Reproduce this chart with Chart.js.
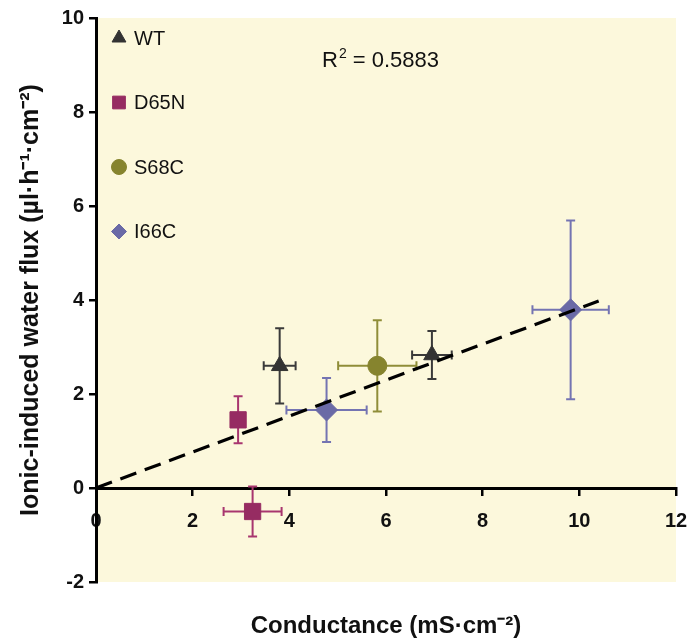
<!DOCTYPE html>
<html lang="en">
<head>
  <meta charset="UTF-8" />
  <title>Conductance vs water flux</title>
  <script src="https://cdn.jsdelivr.net/npm/chart.js"></script>
  <style>
    html, body { margin: 0; padding: 0; background: #fff; }
    #wrap { width: 690px; height: 643px; }
  </style>
</head>
<body>
<div id="wrap"><canvas id="fluxChart" width="690" height="643"></canvas></div>
<script>
  // values
  const groups = ["WT", "D65N", "S68C", "I66C"];

  const wtX = [3.80, 6.95];
  const wtY = [2.60, 2.83];
  const wtXErr = [0.33, 0.41];
  const wtYErr = [0.80, 0.51];

  const d65nX = [2.94, 3.24];
  const d65nY = [1.45, -0.50];
  const d65nXErr = [0, 0.60];
  const d65nYErr = [0.50, 0.53];

  const s68cX = [5.82];
  const s68cY = [2.60];
  const s68cXErr = [0.81];
  const s68cYErr = [0.97];

  const i66cX = [4.77, 9.82];
  const i66cY = [1.66, 3.79];
  const i66cXErr = [0.83, 0.79];
  const i66cYErr = [0.68, 1.90];

  const trendX = [0, 10.4];
  const trendY = [0, 3.98];
  const rSquared = "0.5883";

  const xTicks = [0, 2, 4, 6, 8, 10, 12];
  const yTicks = [-2, 0, 2, 4, 6, 8, 10];

  const FONT = "'Liberation Sans', Arial, Helvetica, sans-serif";
  Chart.defaults.font.family = FONT;
  Chart.defaults.color = "#000";

  function pts(xs, ys, xe, ye) {
    return xs.map((x, i) => ({ x: x, y: ys[i], xErr: xe[i], yErr: ye[i] }));
  }

  const series = [
    { label: groups[0], data: pts(wtX, wtY, wtXErr, wtYErr), color: "#333333", barColor: "#3a3a3a", style: "triangle", r: 9.5, lr: 8 },
    { label: groups[1], data: pts(d65nX, d65nY, d65nXErr, d65nYErr), color: "#962c62", barColor: "#a8366f", style: "rect", r: 11.5, lr: 9 },
    { label: groups[2], data: pts(s68cX, s68cY, s68cXErr, s68cYErr), color: "#86842e", barColor: "#8f8d38", style: "circle", r: 9.5, lr: 7.5 },
    { label: groups[3], data: pts(i66cX, i66cY, i66cXErr, i66cYErr), color: "#6a6aa6", barColor: "#7474b2", style: "rectRot", r: 11, lr: 7.5 }
  ];

  const datasets = series.map(s => ({
    type: "scatter",
    label: s.label,
    data: s.data,
    pointStyle: s.style,
    pointRadius: s.r,
    pointHoverRadius: s.r,
    backgroundColor: s.color,
    borderColor: s.color,
    borderWidth: 1,
    barColor: s.barColor,
    legendRadius: s.lr,
    order: 2
  }));

  datasets.push({
    type: "line",
    label: "trend",
    data: trendX.map((x, i) => ({ x: x, y: trendY[i] })),
    borderColor: "#000",
    borderWidth: 3.2,
    borderDash: [17, 9],
    pointRadius: 0,
    fill: false,
    order: 1
  });

  // pale yellow plot background
  const plotBg = {
    id: "plotBg",
    beforeDraw(chart) {
      const a = chart.chartArea, ctx = chart.ctx;
      ctx.save();
      ctx.fillStyle = "#fcf8dc";
      ctx.fillRect(a.left, a.top, a.right - a.left, a.bottom - a.top);
      ctx.restore();
    }
  };

  // x and y error bars behind the markers
  const errorBars = {
    id: "errorBars",
    beforeDatasetsDraw(chart) {
      const ctx = chart.ctx, xs = chart.scales.x, ys = chart.scales.y;
      const cap = 4.5;
      ctx.save();
      ctx.lineWidth = 2;
      chart.data.datasets.forEach(ds => {
        if (!ds.barColor) return;
        ctx.strokeStyle = ds.barColor;
        ds.data.forEach(p => {
          const px = xs.getPixelForValue(p.x), py = ys.getPixelForValue(p.y);
          if (p.yErr) {
            const t = ys.getPixelForValue(p.y + p.yErr), b = ys.getPixelForValue(p.y - p.yErr);
            ctx.beginPath();
            ctx.moveTo(px, t); ctx.lineTo(px, b);
            ctx.moveTo(px - cap, t); ctx.lineTo(px + cap, t);
            ctx.moveTo(px - cap, b); ctx.lineTo(px + cap, b);
            ctx.stroke();
          }
          if (p.xErr) {
            const l = xs.getPixelForValue(p.x - p.xErr), r = xs.getPixelForValue(p.x + p.xErr);
            ctx.beginPath();
            ctx.moveTo(l, py); ctx.lineTo(r, py);
            ctx.moveTo(l, py - cap); ctx.lineTo(l, py + cap);
            ctx.moveTo(r, py - cap); ctx.lineTo(r, py + cap);
            ctx.stroke();
          }
        });
      });
      ctx.restore();
    }
  };

  // legend column and R² note inside the plot
  const notes = {
    id: "notes",
    afterDraw(chart) {
      const ctx = chart.ctx, a = chart.chartArea;
      ctx.save();
      ctx.textBaseline = "middle";
      ctx.textAlign = "left";
      ctx.font = "20px " + FONT;
      const mx = a.left + 23;
      chart.data.datasets.forEach((ds, i) => {
        if (!ds.barColor) return;
        const my = a.top + 20 + i * 64.5;
        ctx.fillStyle = ds.backgroundColor;
        ctx.strokeStyle = ds.backgroundColor;
        ctx.lineWidth = 1;
        Chart.helpers.drawPoint(ctx, { pointStyle: ds.pointStyle, radius: ds.legendRadius, rotation: 0, borderWidth: 1 }, mx, my);
        ctx.fillStyle = "#111";
        ctx.fillText(ds.label, mx + 15, my + 1);
      });

      // R² = value
      const rx = 322, ry = 61;
      ctx.fillStyle = "#111";
      ctx.font = "22px " + FONT;
      ctx.fillText("R", rx, ry);
      const w1 = ctx.measureText("R").width;
      ctx.font = "14px " + FONT;
      ctx.fillText("2", rx + w1 + 1, ry - 7);
      const w2 = ctx.measureText("2").width;
      ctx.font = "22px " + FONT;
      ctx.fillText(" = " + rSquared, rx + w1 + w2 + 1, ry);
      ctx.restore();
    }
  };

  function noSidePadding(scale) {
    scale.paddingLeft = 0;
    scale.paddingRight = 0;
  }

  new Chart(document.getElementById("fluxChart"), {
    type: "scatter",
    data: { datasets: datasets },
    plugins: [plotBg, errorBars, notes],
    options: {
      responsive: false,
      animation: false,
      layout: { padding: { top: 18, right: 14, left: 0, bottom: 0 } },
      plugins: {
        legend: { display: false },
        tooltip: { enabled: false }
      },
      scales: {
        x: {
          type: "linear",
          position: { y: 0 },
          min: xTicks[0],
          max: xTicks[xTicks.length - 1],
          afterBuildTicks(scale) { scale.ticks = xTicks.map(v => ({ value: v })); },
          afterFit: noSidePadding,
          grid: { drawOnChartArea: false, drawTicks: true, tickLength: 6, color: "#000", lineWidth: 2.5 },
          border: { display: true, color: "#000", width: 3 },
          ticks: { font: { size: 20, weight: "bold" }, color: "#111", padding: 15, maxRotation: 0 }
        },
        xTitle: {
          type: "linear",
          axis: "x",
          position: "bottom",
          min: xTicks[0],
          max: xTicks[xTicks.length - 1],
          grid: { display: false },
          border: { display: false },
          ticks: { display: false },
          title: {
            display: true,
            text: "Conductance (mS·cm⁻²)",
            font: { size: 24, weight: "bold" },
            color: "#111",
            padding: { top: 0, bottom: 2 }
          },
          afterFit(scale) { scale.height = 61; noSidePadding(scale); }
        },
        y: {
          type: "linear",
          position: "left",
          min: yTicks[0],
          max: yTicks[yTicks.length - 1],
          afterBuildTicks(scale) { scale.ticks = yTicks.map(v => ({ value: v })); },
          grid: { drawOnChartArea: false, drawTicks: true, tickLength: 7, color: "#000", lineWidth: 2.5 },
          border: { display: true, color: "#000", width: 3 },
          ticks: { font: { size: 20, weight: "bold" }, color: "#111", padding: 5 },
          title: {
            display: true,
            text: "Ionic-induced water flux (µl·h⁻¹·cm⁻²)",
            font: { size: 25, weight: "bold" },
            color: "#111",
            padding: { top: 16, bottom: 0 }
          },
          afterFit(scale) { scale.width = 96; scale.paddingTop = 0; scale.paddingBottom = 0; }
        }
      }
    }
  });
</script>
</body>
</html>
